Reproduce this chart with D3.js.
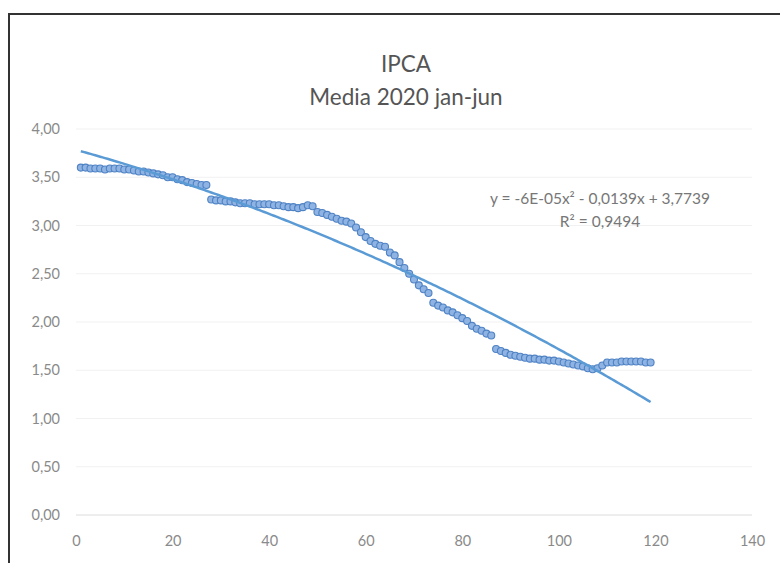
<!DOCTYPE html>
<html>
<head>
<meta charset="utf-8">
<script src="https://cdn.jsdelivr.net/npm/d3@7"></script>
<style>
  body { margin: 0; background: #fff; }
  svg { display: block; font-family: Lato, 'Open Sans', sans-serif; }
</style>
</head>
<body>
<svg id="chart"></svg>
<script>
// IPCA monthly mean expectations
const xValues = d3.range(1, 120);
const ipca = [
  3.60, 3.60, 3.59, 3.59, 3.59, 3.58, 3.59, 3.59, 3.59, 3.58,
  3.58, 3.57, 3.56, 3.56, 3.55, 3.54, 3.53, 3.52, 3.50, 3.50,
  3.48, 3.47, 3.45, 3.44, 3.43, 3.42, 3.42, 3.27, 3.26, 3.26,
  3.25, 3.25, 3.24, 3.23, 3.23, 3.23, 3.22, 3.22, 3.22, 3.22,
  3.21, 3.21, 3.20, 3.19, 3.19, 3.18, 3.19, 3.21, 3.20, 3.14,
  3.13, 3.11, 3.09, 3.07, 3.05, 3.04, 3.02, 2.98, 2.93, 2.88,
  2.84, 2.81, 2.79, 2.78, 2.72, 2.69, 2.62, 2.56, 2.50, 2.44,
  2.38, 2.34, 2.30, 2.20, 2.17, 2.15, 2.12, 2.10, 2.07, 2.04,
  2.01, 1.96, 1.93, 1.91, 1.88, 1.86, 1.72, 1.70, 1.68, 1.66,
  1.65, 1.64, 1.63, 1.62, 1.62, 1.61, 1.61, 1.60, 1.60, 1.59,
  1.58, 1.57, 1.56, 1.55, 1.54, 1.52, 1.51, 1.52, 1.55, 1.58,
  1.58, 1.58, 1.59, 1.59, 1.59, 1.59, 1.59, 1.58, 1.58
];
const xTicks = [0, 20, 40, 60, 80, 100, 120, 140];
const yTicks = [0, 0.5, 1, 1.5, 2, 2.5, 3, 3.5, 4];
const titleLines = ['IPCA', 'Media 2020 jan-jun'];
const eqLines = ['y = -6E-05x² - 0,0139x + 3,7739', 'R² = 0,9494'];

const width = 780, height = 563;
const margin = { top: 129, right: 28, bottom: 48, left: 76 };

const svg = d3.select('#chart')
  .attr('width', width)
  .attr('height', height);

const x = d3.scaleLinear().domain([0, 140]).range([margin.left, width - margin.right]);
const y = d3.scaleLinear().domain([0, 4]).range([height - margin.bottom, margin.top]);
const fmt = d3.format('.2f');
const comma = v => fmt(v).replace('.', ',');

// chart frame (only top/left edges survive in the scan)
svg.append('path')
  .attr('d', `M9,${height} V14 H${width}`)
  .attr('fill', 'none')
  .attr('stroke', '#333')
  .attr('stroke-width', 2);

// gridlines
svg.append('g')
  .selectAll('line')
  .data(yTicks)
  .join('line')
  .attr('x1', x(0))
  .attr('x2', x(140))
  .attr('y1', d => y(d))
  .attr('y2', d => y(d))
  .attr('stroke', d => d === 0 ? '#dcdcdc' : '#f1f1f1')
  .attr('stroke-width', 1);

// axes (labels only, Excel style)
const yAxis = svg.append('g')
  .attr('transform', `translate(${x(0) - 13},0)`)
  .call(d3.axisLeft(y).tickValues(yTicks).tickFormat(comma).tickSize(0));
yAxis.select('.domain').remove();

const xAxis = svg.append('g')
  .attr('transform', `translate(0,${y(0) + 16})`)
  .call(d3.axisBottom(x).tickValues(xTicks).tickFormat(d3.format('d')).tickSize(0));
xAxis.select('.domain').remove();

svg.selectAll('.tick text')
  .attr('font-family', 'Lato, sans-serif')
  .attr('font-size', 14.5)
  .attr('fill', '#8a8a8a');
xAxis.selectAll('.tick text').attr('dy', '0.8em');

// points
const points = xValues.map((d, i) => ({ x: d, v: ipca[i] }));

svg.append('g')
  .selectAll('circle')
  .data(points)
  .join('circle')
  .attr('cx', d => x(d.x))
  .attr('cy', d => y(d.v))
  .attr('r', 3.5)
  .attr('fill', '#8fb4e3')
  .attr('stroke', '#4f82c4')
  .attr('stroke-width', 1.1);

// polynomial (order 2) trendline, least squares like Excel
function quadFit(xs, ys) {
  let s = [0, 0, 0, 0, 0], t = [0, 0, 0];
  xs.forEach((xi, i) => {
    let p = 1;
    for (let k = 0; k < 5; k++) { s[k] += p; if (k < 3) t[k] += p * ys[i]; p *= xi; }
  });
  const A = [[s[0], s[1], s[2], t[0]], [s[1], s[2], s[3], t[1]], [s[2], s[3], s[4], t[2]]];
  for (let c = 0; c < 3; c++) {
    for (let r = c + 1; r < 3; r++) {
      const f = A[r][c] / A[c][c];
      for (let k = c; k < 4; k++) A[r][k] -= f * A[c][k];
    }
  }
  const sol = [0, 0, 0];
  for (let r = 2; r >= 0; r--) {
    let acc = A[r][3];
    for (let k = r + 1; k < 3; k++) acc -= A[r][k] * sol[k];
    sol[r] = acc / A[r][r];
  }
  return sol; // c0, c1, c2
}
const [c0, c1, c2] = quadFit(xValues, ipca);
const trend = d3.range(1, 119.5, 0.5).map(t => ({ x: t, v: c0 + c1 * t + c2 * t * t }));

svg.append('path')
  .datum(trend)
  .attr('d', d3.line().x(d => x(d.x)).y(d => y(d.v)))
  .attr('fill', 'none')
  .attr('stroke', '#5b9bd5')
  .attr('stroke-width', 2.5);

// title
svg.append('g')
  .selectAll('text')
  .data(titleLines)
  .join('text')
  .attr('x', 406)
  .attr('y', (d, i) => 72 + i * 33)
  .attr('text-anchor', 'middle')
  .attr('font-size', 22.5)
  .attr('fill', '#555')
  .text(d => d);

// trendline label
svg.append('g')
  .selectAll('text')
  .data(eqLines)
  .join('text')
  .attr('x', 600)
  .attr('y', (d, i) => 204 + i * 23)
  .attr('text-anchor', 'middle')
  .attr('font-size', 15.5)
  .attr('fill', '#777')
  .text(d => d);
</script>
</body>
</html>
